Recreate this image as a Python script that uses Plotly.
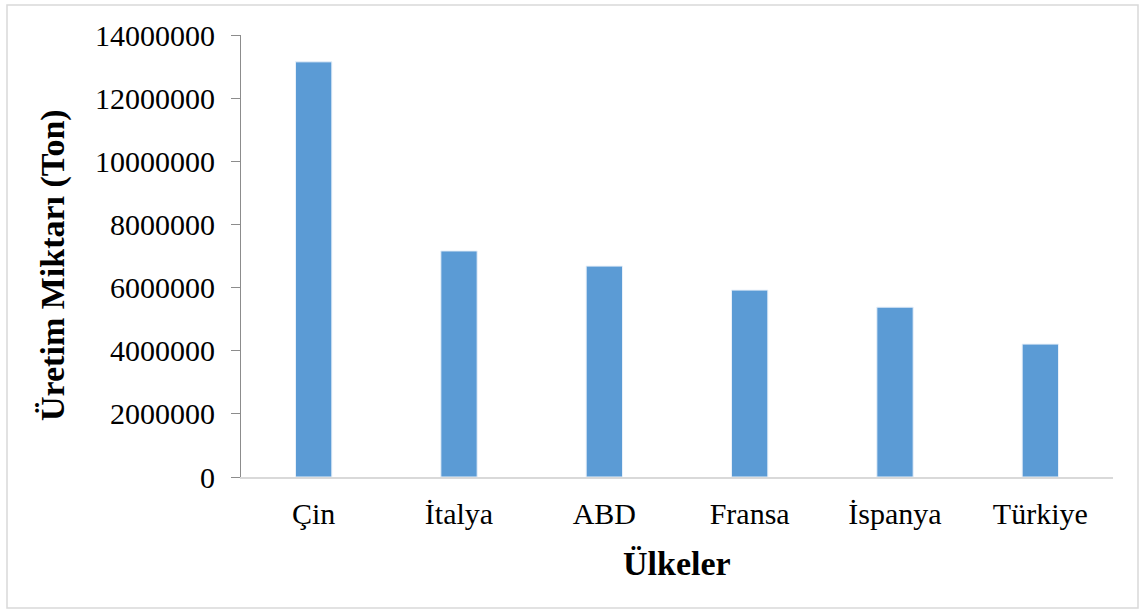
import plotly.graph_objects as go

# Üretim miktarları (ton)
ulkeler = ["Çin", "İtalya", "ABD", "Fransa", "İspanya", "Türkiye"]
uretim = [13150000, 7160000, 6680000, 5920000, 5380000, 4210000]
y_ticks = [0, 2000000, 4000000, 6000000, 8000000, 10000000, 12000000, 14000000]

W, H = 1142, 610
L, R, T, B = 241, 29, 35, 133
pw, ph = W - L - R, H - T - B

font_family = "Liberation Serif, Times New Roman, serif"

fig = go.Figure(
    go.Bar(
        x=ulkeler,
        y=uretim,
        marker=dict(color="#5B9BD5", line=dict(color="#e8f0f9", width=1)),
        width=0.25,
    )
)

fig.update_layout(
    width=W,
    height=H,
    margin=dict(l=L, r=R, t=T, b=B),
    paper_bgcolor="white",
    plot_bgcolor="white",
    showlegend=False,
    font=dict(family=font_family, color="black", size=30),
    xaxis=dict(
        showline=True,
        linecolor="#d9d9d9",
        linewidth=2,
        ticks="",
        showgrid=False,
        tickfont=dict(size=30),
        ticklabelstandoff=9,
    ),
    yaxis=dict(
        range=[0, 14000000],
        tickvals=y_ticks,
        tickformat="d",
        showline=True,
        linecolor="#8c8c8c",
        linewidth=1,
        ticks="outside",
        ticklen=9,
        tickcolor="#8c8c8c",
        showgrid=False,
        zeroline=False,
        tickfont=dict(size=30),
        ticklabelstandoff=10,
    ),
    annotations=[
        dict(
            text="<b>Üretim Miktarı (Ton)</b>",
            xref="paper", yref="paper",
            x=(53 - L) / pw, y=(H - 265 - B) / ph,
            xanchor="center", yanchor="middle",
            textangle=-90, showarrow=False,
            font=dict(size=34, family=font_family),
        ),
        dict(
            text="<b>Ülkeler</b>",
            xref="paper", yref="paper",
            x=(677 - L) / pw, y=(H - 563 - B) / ph,
            xanchor="center", yanchor="middle",
            showarrow=False,
            font=dict(size=34, family=font_family),
        ),
    ],
    shapes=[
        dict(
            type="rect",
            xref="paper", yref="paper",
            x0=(7 - L) / pw, x1=(1138 - L) / pw,
            y0=(H - 608 - B) / ph, y1=(H - 5 - B) / ph,
            line=dict(color="#d9d9d9", width=1.5),
            fillcolor="rgba(0,0,0,0)",
            layer="below",
        )
    ],
)

fig.write_html("out.html")
